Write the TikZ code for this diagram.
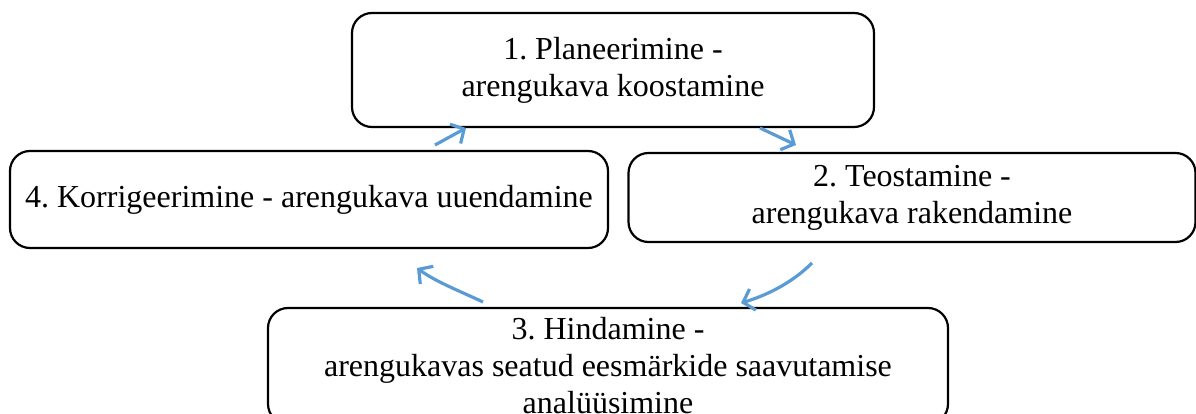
\documentclass[tikz,border=0pt]{standalone}
\usepackage{fontspec}
\setmainfont{Liberation Serif}
\usetikzlibrary{arrows.meta, positioning}
\definecolor{CycleBlue}{HTML}{5B9BD5}

\begin{document}
\frenchspacing
\begin{tikzpicture}[x=1pt, y=-1pt,
        % Etapi kast
        stagebox/.style={
                rectangle,
                rounded corners=20pt,
                draw=black,
                line width=2.2pt,
                align=center,
                inner sep=0pt,
                font=\fontsize{32}{37}\selectfont
            },
        % Tsükli nool
        cyclearrow/.style={
                draw=CycleBlue,
                line width=3.2pt,
                -{Straight Barb[length=10pt, width=22pt, line width=3.2pt]}
            }
    ]

    \useasboundingbox (0,0) rectangle (1196,414);
    \clip (0,0) rectangle (1196,414);

    % ETAPID
    \node[stagebox, minimum width=522pt, minimum height=114pt] (plan) at (613,70)
        {1. Planeerimine -\\arengukava koostamine};
    \node[stagebox, minimum width=567pt, minimum height=89pt] (teostus) at (912,197.5)
        {2. Teostamine -\\arengukava rakendamine};
    \node[stagebox, minimum width=680pt, minimum height=116pt] (hindamine) at (608,366)
        {3. Hindamine -\\arengukavas seatud eesmärkide saavutamise\\analüüsimine};
    \node[stagebox, minimum width=598pt, minimum height=97pt] (korrigeerimine) at (309,199.5)
        {4. Korrigeerimine - arengukava uuendamine};

    % Noolte otsad
    \coordinate (a1) at (435,145);
    \coordinate (b1) at (466,128);
    \coordinate (a2) at (760,128);
    \coordinate (b2) at (796,145);
    \coordinate (a3) at (812,263);
    \coordinate (b3) at (741,303);
    \coordinate (a4) at (483,302);
    \coordinate (b4) at (417,268);

    % NOOLED
    \draw[cyclearrow] (a1) -- (b1);
    \draw[cyclearrow] (a2) -- (b2);
    \draw[cyclearrow] (a3) .. controls (793,282) and (768,295) .. (b3);
    \draw[cyclearrow] (a4) .. controls (462,292) and (436,282) .. (b4);

\end{tikzpicture}
\end{document}
